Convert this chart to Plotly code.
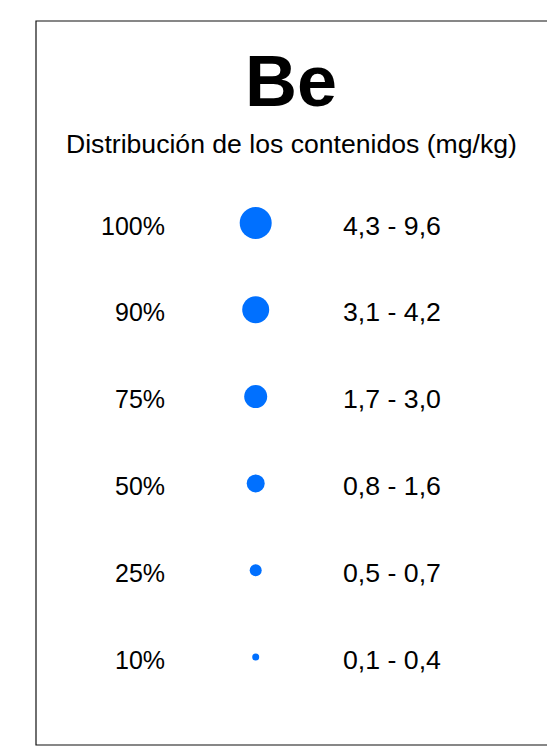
import plotly.graph_objects as go

element = "Be"
subtitle = "Distribución de los contenidos (mg/kg)"
percentiles = ["100%", "90%", "75%", "50%", "25%", "10%"]
ranges = ["4,3 - 9,6", "3,1 - 4,2", "1,7 - 3,0", "0,8 - 1,6", "0,5 - 0,7", "0,1 - 0,4"]
dot_sizes = [32, 27, 23, 18, 12, 7]

rows = list(range(len(percentiles)))
FONT = "Liberation Sans, Arial, sans-serif"
BLUE = "#0070FF"

W, H = 547, 740  # page has an 8px body margin
X_PCT, X_DOT, X_RNG = 159, 247.7, 333
TEXT_SHIFT = 0.03  # in row units, push labels slightly lower

fig = go.Figure()
fig.add_trace(go.Scatter(
    x=[X_DOT] * len(rows), y=rows, mode="markers",
    marker=dict(size=dot_sizes, color=BLUE, opacity=1, line=dict(width=0)),
    hoverinfo="skip", showlegend=False,
))

for r, p, t in zip(rows, percentiles, ranges):
    fig.add_annotation(x=X_PCT, y=r + TEXT_SHIFT, text=p, xanchor="right", yanchor="middle",
                       showarrow=False, font=dict(family=FONT, size=25, color="black"))
    fig.add_annotation(x=X_RNG, y=r + TEXT_SHIFT, text=t, xanchor="left", yanchor="middle",
                       showarrow=False, font=dict(family=FONT, size=26.7, color="black"))

fig.add_annotation(x=283 / W, y=1 - 73 / H, xref="paper", yref="paper", text="<b>" + element + "</b>",
                   showarrow=False, xanchor="center", yanchor="middle",
                   font=dict(family=FONT, size=72, color="black"))
fig.add_annotation(x=283 / W, y=1 - 136 / H, xref="paper", yref="paper", text=subtitle,
                   showarrow=False, xanchor="center", yanchor="middle",
                   font=dict(family=FONT, size=26.6, color="black"))

fig.add_shape(type="rect", xref="paper", yref="paper",
              x0=28 / W, x1=540 / W, y0=1 - 737 / H, y1=1 - 13 / H,
              line=dict(color="#111111", width=1.2), fillcolor="rgba(0,0,0,0)")

y0_px, dy = 215, 86.8
fig.update_layout(
    width=W, height=H, margin=dict(l=0, r=0, t=0, b=0),
    paper_bgcolor="white", plot_bgcolor="white",
    xaxis=dict(range=[0, W], visible=False, fixedrange=True),
    yaxis=dict(range=[(H - y0_px) / dy, -y0_px / dy], visible=False, fixedrange=True),
    showlegend=False,
)
fig.write_html("out.html")
